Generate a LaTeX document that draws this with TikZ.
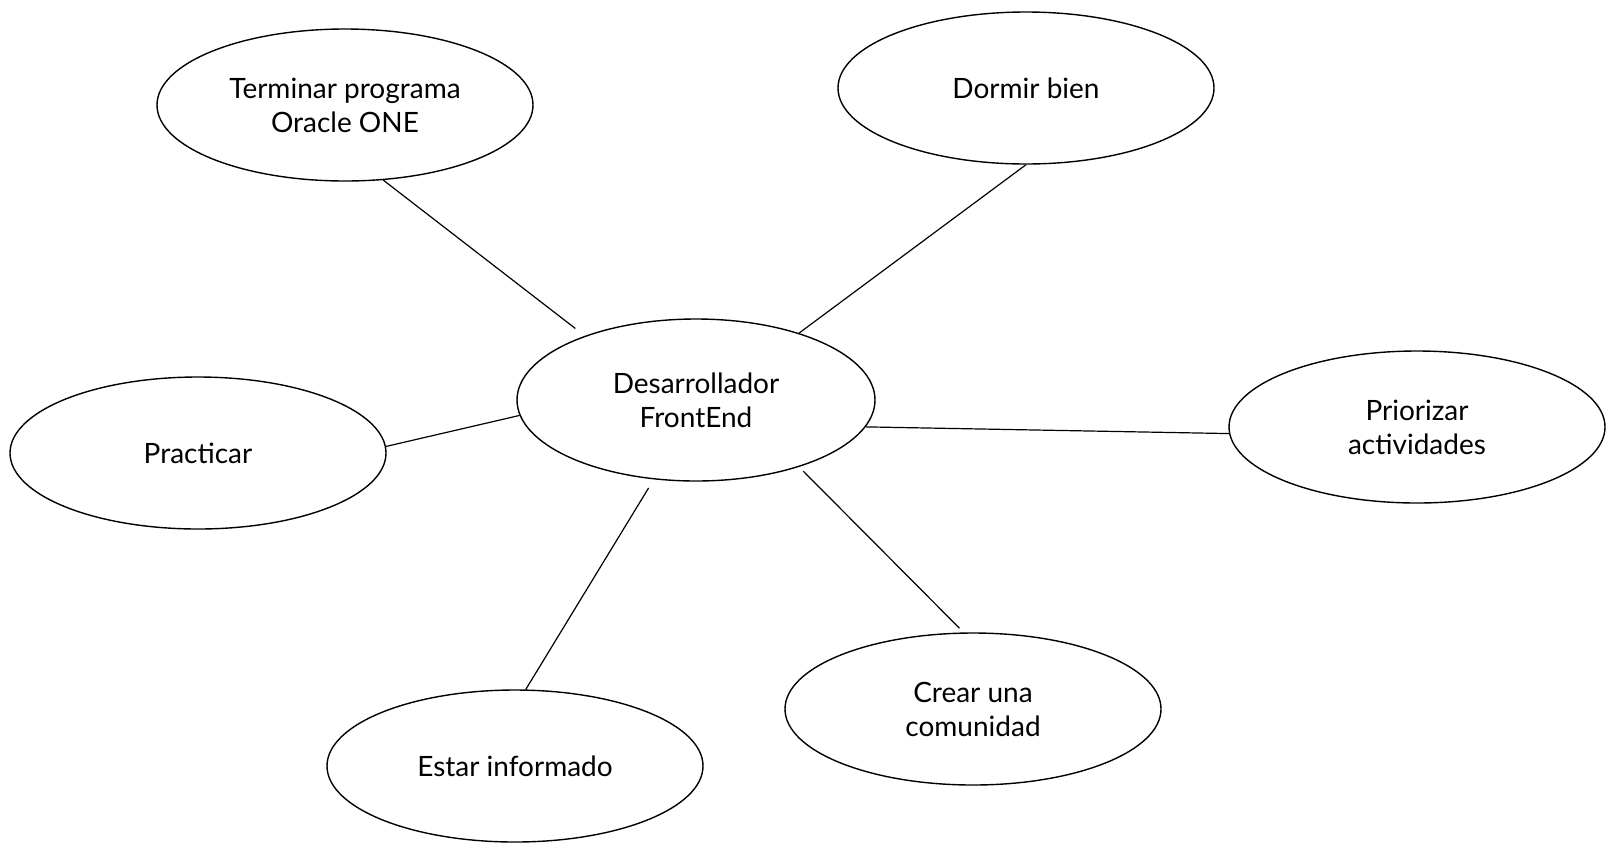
\documentclass[tikz,border=0pt]{standalone}
\usepackage{fontspec}
\setmainfont{Lato}
\usetikzlibrary{shapes.geometric}
\begin{document}
\begin{tikzpicture}[x=0.5pt,y=-0.5pt,
  bub/.style={draw=black, ellipse, inner sep=0pt, line width=0.7pt, align=center,
    font=\fontsize{14}{17}\selectfont, minimum width=188pt, minimum height=76pt},
  link/.style={draw=black, line width=0.6pt}]
\useasboundingbox (0,0) rectangle (1615,852);
\node[bub] (ter) at (345,105) {Terminar programa\\Oracle ONE};
\node[bub] (dor) at (1026,88) {Dormir bien};
\node[bub, minimum width=179pt, minimum height=81pt] (des) at (696,400) {Desarrollador\\FrontEnd};
\node[bub] (pra) at (198,453) {Practicar};
\node[bub] (pri) at (1417,427) {Priorizar\\actividades};
\node[bub] (est) at (515,766) {Estar informado};
\node[bub] (cre) at (973,709) {Crear una\\comunidad};
\draw[link, shorten >=6pt] (ter.-63) -- (des.150);
\draw[link] (dor.-90) -- (des.33);
\draw[link] (pra.2) -- (des.-175);
\draw[link] (des.-9) -- (pri.-178);
\draw[link, shorten <=5pt] (des.-118) -- (est.82);
\draw[link, shorten <=3pt, shorten >=3pt] (des.-33) -- (cre.97);
\end{tikzpicture}
\end{document}
